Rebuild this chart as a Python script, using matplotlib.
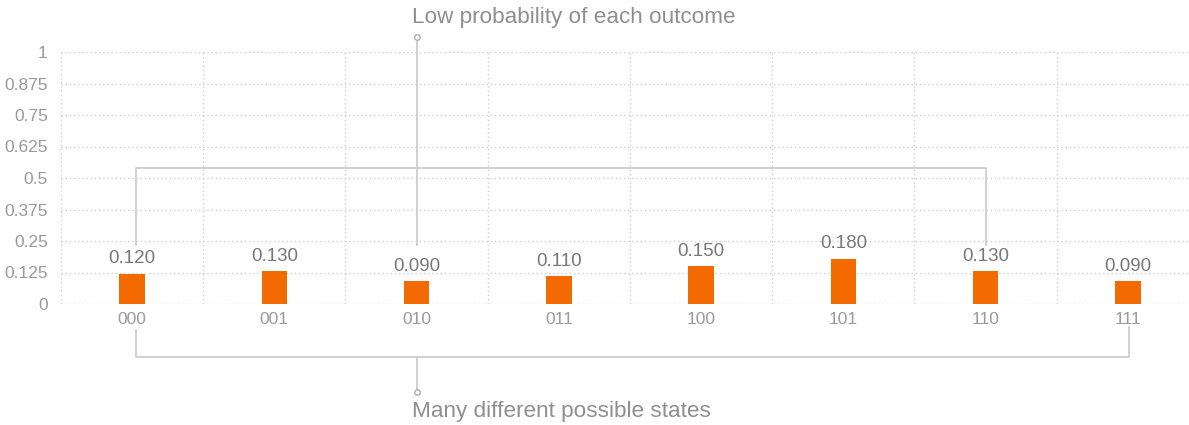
import matplotlib.pyplot as plt
import numpy as np

plt.rcParams["font.family"] = ["Liberation Sans", "DejaVu Sans"]

states = ["000", "001", "010", "011", "100", "101", "110", "111"]
probabilities = [0.12, 0.13, 0.09, 0.11, 0.15, 0.18, 0.13, 0.09]
y_ticks = [0, 0.125, 0.25, 0.375, 0.5, 0.625, 0.75, 0.875, 1]
y_tick_labels = ["0", "0.125", "0.25", "0.375", "0.5", "0.625", "0.75", "0.875", "1"]

bar_color = "#f26a00"
grid_color = "#cfcfcf"
bracket_color = "#cacaca"
text_color = "#8f8f8f"
tick_color = "#9a9a9a"

fig = plt.figure(figsize=(11.89, 4.25), dpi=100)
ax = fig.add_axes([61 / 1189, 121 / 425, 1138 / 1189, 252 / 425])

x = np.arange(len(states))
ax.bar(x, probabilities, width=0.18, color=bar_color, zorder=3)
for xi, p in zip(x, probabilities):
    ax.text(xi, p + 0.025, f"{p:.3f}", ha="center", va="bottom", fontsize=13.5, color="#777777")

ax.set_xlim(-0.5, len(states) - 0.5)
ax.set_ylim(0, 1)

# dotted grid: horizontal at y ticks, vertical at band edges
for y in y_ticks:
    ax.axhline(y, color=grid_color, linestyle=(0, (1, 2)), linewidth=1, zorder=1)
for b in np.arange(len(states)) - 0.5:
    ax.axvline(b, color=grid_color, linestyle=(0, (1, 2)), linewidth=1, zorder=1)

for s in ax.spines.values():
    s.set_visible(False)
ax.set_xticks(x)
ax.set_xticklabels(states)
ax.set_yticks(y_ticks)
ax.set_yticklabels(y_tick_labels)
ax.tick_params(axis="both", length=0, colors=tick_color, labelsize=12.5)
ax.tick_params(axis="x", pad=6)
ax.tick_params(axis="y", pad=9.5)

# upper bracket: spans 000..110, stalk from 010 up to the caption
line_kw = dict(color=bracket_color, linewidth=1.2, clip_on=False, zorder=2)
ax.plot([0.03, 0.03, 6, 6], [0.234, 0.54, 0.54, 0.234], **line_kw)
ax.plot([2, 2], [0.234, 1.06], **line_kw)
ax.plot([2], [1.06], marker="o", markersize=4, markerfacecolor="white",
        markeredgecolor="#b0b0b0", markeredgewidth=1, clip_on=False, zorder=4)
ax.text(1.97, 1.135, "Low probability of each outcome", ha="left", va="center",
        fontsize=16.2, color=text_color, clip_on=False)

# lower bracket: spans all states below the tick labels
ax.plot([0.03, 0.03, 7.01, 7.01], [-0.103, -0.21, -0.21, -0.09], **line_kw)
ax.plot([2, 2], [-0.21, -0.35], **line_kw)
ax.plot([2], [-0.35], marker="o", markersize=4, markerfacecolor="white",
        markeredgecolor="#b0b0b0", markeredgewidth=1, clip_on=False, zorder=4)
ax.text(1.97, -0.425, "Many different possible states", ha="left", va="center",
        fontsize=16.2, color=text_color, clip_on=False)

fig.savefig("out.png", dpi=100)
